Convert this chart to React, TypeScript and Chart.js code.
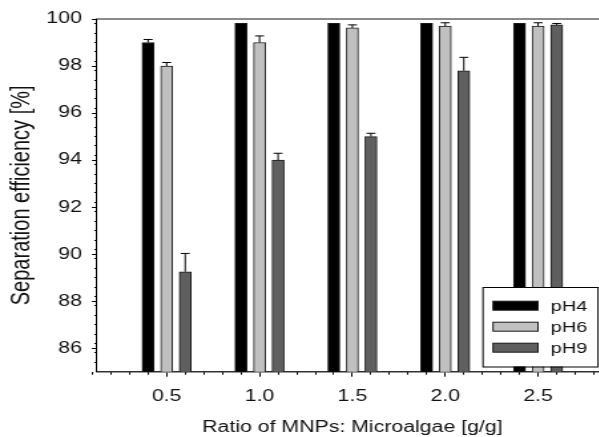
import { useEffect, useRef } from "react";
import { Chart, registerables } from "chart.js";

Chart.register(...registerables);

// ---- data ----
const RATIOS = [0.5, 1.0, 1.5, 2.0, 2.5];
const X_TICK_LABELS = ["0.5", "1.0", "1.5", "2.0", "2.5"];
const Y_TICKS = [86, 88, 90, 92, 94, 96, 98, 100];
const Y_TICK_LABELS = ["86", "88", "90", "92", "94", "96", "98", "100"];
const SERIES_LABELS = ["pH4", "pH6", "pH9"];
const PH4 = [99.0, 99.82, 99.82, 99.82, 99.82];
const PH4_ERR = [0.13, 0, 0, 0, 0];
const PH6 = [98.0, 99.0, 99.62, 99.7, 99.7];
const PH6_ERR = [0.15, 0.28, 0.13, 0.14, 0.14];
const PH9 = [89.25, 94.0, 95.0, 97.8, 99.75];
const PH9_ERR = [0.78, 0.29, 0.14, 0.57, 0.06];
const X_TITLE = "Ratio of MNPs: Microalgae [g/g]";
const Y_TITLE = "Separation efficiency [%]";

const X_MIN = 0.125;
const X_MAX = 2.875;
const Y_MIN = 85;
const Y_MAX = 100;

// ---- layout / style ----
const S = 1.33; // horizontal stretch of the original figure
const W = 470;
const H = 437;
const FONT = "'Liberation Sans', Arial, Helvetica, sans-serif";
const COLORS = ["#000000", "#c0c0c0", "#5f5f5f"];

function minorTicks(min: number, max: number, step: number, majorStep: number) {
  const out: number[] = [];
  const n = Math.round((max - min) / step);
  for (let k = 0; k <= n; k++) {
    const v = Math.round((min + k * step) * 1000) / 1000;
    const r = v / majorStep;
    if (Math.abs(r - Math.round(r)) < 1e-6) continue;
    if (v <= min || v >= max) continue;
    out.push(v);
  }
  return out;
}

export default function App() {
  const ref = useRef<HTMLCanvasElement | null>(null);

  useEffect(() => {
    if (!ref.current) return;
    const values = [PH4, PH6, PH9];
    const errs = [PH4_ERR, PH6_ERR, PH9_ERR];

    const errorAndLegend = {
      id: "errorAndLegend",
      afterDatasetsDraw(chart: any) {
        const ctx = chart.ctx;
        const yScale = chart.scales.y;
        ctx.save();
        ctx.strokeStyle = "#000";
        ctx.lineWidth = 1;
        values.forEach((vals, d) => {
          const meta = chart.getDatasetMeta(d);
          vals.forEach((v, i) => {
            const e = errs[d][i];
            if (!e) return;
            const bar = meta.data[i];
            const x = bar.x;
            const y1 = yScale.getPixelForValue(v);
            const y2 = yScale.getPixelForValue(v + e);
            const cw = 9 / S / 2;
            ctx.beginPath();
            ctx.moveTo(x, y1);
            ctx.lineTo(x, y2);
            ctx.moveTo(x - cw, y2);
            ctx.lineTo(x + cw, y2);
            ctx.stroke();
          });
        });
        // legend box
        const bx = 483 / S;
        const bw = 598 / S - bx;
        const by = 287;
        const bh = 366.5 - by;
        ctx.fillStyle = "#ffffff";
        ctx.fillRect(bx, by, bw, bh);
        ctx.strokeStyle = "#000";
        ctx.lineWidth = 1;
        ctx.strokeRect(bx, by + 0.5, bw, bh);
        ctx.font = `15px ${FONT}`;
        ctx.textBaseline = "middle";
        ctx.textAlign = "left";
        chart.data.datasets.forEach((ds: any, d: number) => {
          const cy = 305.7 + d * 21;
          const sx = 493 / S;
          const sw = 538 / S - sx;
          ctx.fillStyle = ds.backgroundColor;
          ctx.fillRect(sx, cy - 4.5, sw, 9);
          ctx.strokeStyle = "#1a1a1a";
          ctx.strokeRect(sx, cy - 4.5, sw, 9);
          ctx.fillStyle = "#111";
          ctx.fillText(ds.label, 550.7 / S, cy + 1);
        });
        ctx.restore();
      },
    };

    const chart = new Chart(ref.current, {
      type: "bar",
      data: {
        datasets: SERIES_LABELS.map((label, d) => ({
          label,
          data: RATIOS.map((x, i) => ({ x, y: values[d][i] })),
          backgroundColor: COLORS[d],
          borderColor: "#1a1a1a",
          borderWidth: 1,
          barThickness: "flex" as any,
          categoryPercentage: 0.6,
          barPercentage: 0.645,
          xAxisID: "x",
          yAxisID: "y",
        })),
      },
      options: {
        animation: false,
        responsive: false,
        events: [],
        layout: { padding: { left: 0, right: W - 607.75 / S, top: 19, bottom: 0 } },
        plugins: { legend: { display: false }, tooltip: { enabled: false } },
        scales: {
          xMinor: {
            type: "linear",
            position: "bottom",
            weight: -10,
            min: X_MIN,
            max: X_MAX,
            offset: false,
            afterBuildTicks: (s: any) => {
              s.ticks = minorTicks(0, 3, 0.1, 0.5).map((value) => ({ value }));
            },
            afterFit: (s: any) => {
              s.height = 0;
            },
            ticks: { display: false, autoSkip: false },
            grid: { drawOnChartArea: false, drawTicks: true, tickLength: 3, tickColor: "#000", offset: false },
            border: { display: false },
          },
          x: {
            type: "linear",
            position: "bottom",
            weight: 0,
            min: X_MIN,
            max: X_MAX,
            offset: false,
            afterBuildTicks: (s: any) => {
              s.ticks = RATIOS.map((value) => ({ value }));
            },
            afterFit: (s: any) => {
              s.height = H - 371.7;
            },
            ticks: {
              autoSkip: false,
              maxRotation: 0,
              padding: 10.5,
              color: "#111",
              font: { family: FONT, size: 16 },
              callback: (_v: any, i: number) => X_TICK_LABELS[i],
            },
            grid: { drawOnChartArea: false, tickLength: 5, tickColor: "#000", offset: false },
            border: { display: true, color: "#333", width: 1.5 },
            title: {
              display: true,
              text: X_TITLE,
              color: "#111",
              font: { family: FONT, size: 16 },
              padding: { top: 2.4, bottom: 0 },
            },
          },
          xTop: {
            type: "linear",
            position: "top",
            min: X_MIN,
            max: X_MAX,
            afterFit: (s: any) => {
              s.height = 0;
            },
            ticks: { display: false },
            grid: { drawOnChartArea: false, drawTicks: false },
            border: { display: true, color: "#8a8a8a", width: 2 },
          },
          yMinor: {
            type: "linear",
            position: "left",
            weight: -10,
            min: Y_MIN,
            max: Y_MAX,
            afterBuildTicks: (s: any) => {
              s.ticks = minorTicks(85, 100, 0.4, 2).map((value) => ({ value }));
            },
            afterFit: (s: any) => {
              s.width = 0;
            },
            ticks: { display: false, autoSkip: false },
            grid: { drawOnChartArea: false, drawTicks: true, tickLength: 2, tickColor: "#000" },
            border: { display: false },
          },
          y: {
            type: "linear",
            position: "left",
            weight: 0,
            min: Y_MIN,
            max: Y_MAX,
            afterBuildTicks: (s: any) => {
              s.ticks = Y_TICKS.map((value) => ({ value }));
            },
            afterFit: (s: any) => {
              s.width = 97 / S;
            },
            ticks: {
              autoSkip: false,
              padding: 7.6,
              color: "#111",
              font: { family: FONT, size: 16 },
              callback: (_v: any, i: number) => Y_TICK_LABELS[i],
            },
            grid: { drawOnChartArea: false, tickLength: 3.8, tickColor: "#000" },
            border: { display: true, color: "#000", width: 1 },
            title: {
              display: true,
              text: Y_TITLE,
              color: "#111",
              font: { family: FONT, size: 20 },
              padding: { top: 4.5, bottom: 0 },
            },
          },
        },
      },
      plugins: [errorAndLegend],
    } as any);

    return () => chart.destroy();
  }, []);

  return (
    <div
      style={{
        position: "fixed",
        left: 0,
        top: 0,
        width: 599,
        height: 437,
        overflow: "hidden",
        background: "#fff",
      }}
    >
      <div style={{ transform: `scaleX(${S})`, transformOrigin: "0 0", width: W, height: H }}>
        <canvas ref={ref} width={W} height={H} style={{ width: W, height: H, display: "block" }} />
      </div>
    </div>
  );
}
